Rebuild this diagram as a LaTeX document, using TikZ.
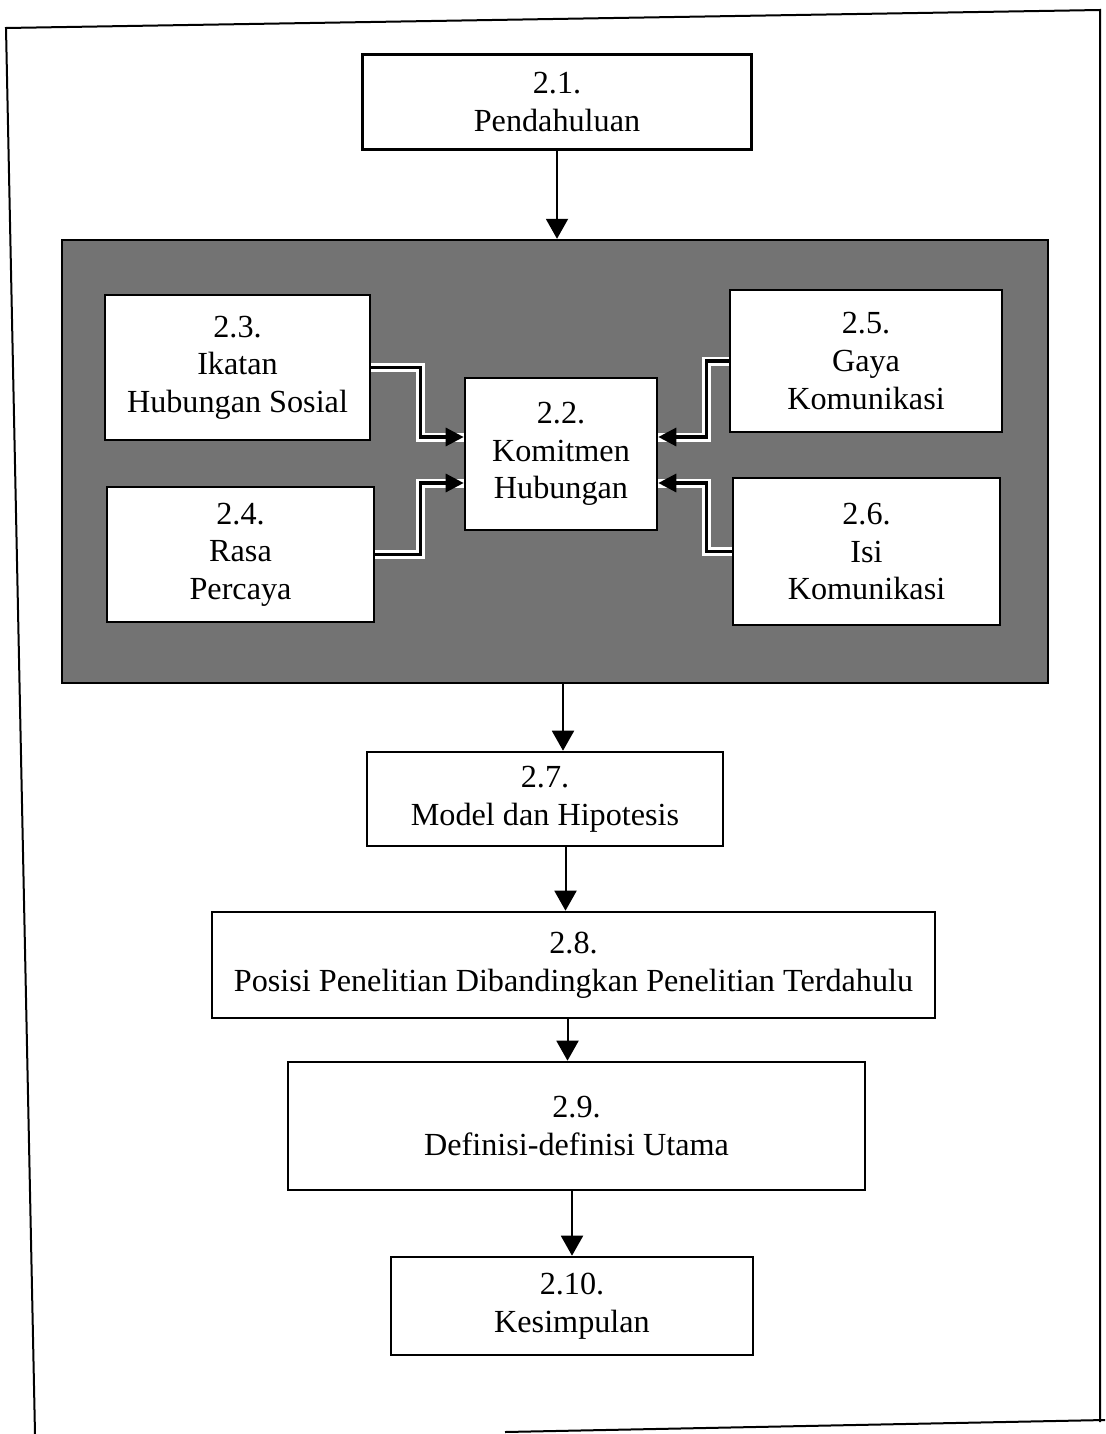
\documentclass[tikz,border=0pt]{standalone}
\usepackage{fontspec}
\setmainfont{Liberation Serif}
\usetikzlibrary{arrows.meta,positioning}
\definecolor{inkc}{HTML}{000000}
\definecolor{dotbg}{HTML}{737373}
\tikzset{
  ar/.style={-{Triangle[length=10pt,width=11pt]},line width=1pt,inkc},
  box/.style={draw=inkc,line width=1.3pt,fill=white,align=center,inner sep=0pt,font=\fontsize{16.1}{18.8}\selectfont},
  core/.style={draw=inkc,line width=1.2pt,fill=dotbg,inner sep=0pt},
  link/.style={-{Triangle[length=9pt,width=9pt]},line width=1.6pt,inkc,preaction={draw=white,line width=4.5pt,-}},
  rim/.style={line width=1pt,inkc}
}
\begin{document}
\begin{tikzpicture}[x=0.5pt,y=-0.5pt]
\useasboundingbox (0,0) rectangle (1105,1434);
\draw[rim] (505,1432) -- (1105,1420);
\draw[rim] (35,1434) -- (6,28) -- (1100,10) -- (1100,1422);
\node[box,minimum width=194.5pt,minimum height=47.5pt] (p21) at (557,102) {2.1.\\Pendahuluan};
\node[core,minimum width=493pt,minimum height=221.5pt] (mid) at (555,461.5) {};
\node[box,minimum width=132.5pt,minimum height=72.5pt] (p23) at (237.5,367.5) {2.3.\\Ikatan\\Hubungan Sosial};
\node[box,minimum width=133.5pt,minimum height=67.5pt] (p24) at (240.5,554.5) {2.4.\\Rasa\\Percaya};
\node[box,minimum width=96pt,minimum height=76pt] (p22) at (561,454) {2.2.\\Komitmen\\Hubungan};
\node[box,minimum width=136pt,minimum height=71pt] (p25) at (866,361) {2.5.\\Gaya\\Komunikasi};
\node[box,minimum width=133.5pt,minimum height=73.5pt] (p26) at (866.5,551.5) {2.6.\\Isi\\Komunikasi};
\node[box,minimum width=178pt,minimum height=47pt] (p27) at (545,799) {2.7.\\Model dan Hipotesis};
\node[box,minimum width=361.5pt,minimum height=53pt] (p28) at (573.5,965) {2.8.\\Posisi Penelitian Dibandingkan Penelitian Terdahulu};
\node[box,minimum width=288.5pt,minimum height=64pt] (p29) at (576.5,1126) {2.9.\\Definisi-definisi Utama};
\node[box,minimum width=181pt,minimum height=49pt] (p210) at (572,1306) {2.10.\\Kesimpulan};
\draw[link] (p23.east) -- ++(49,0) |- ([yshift=8.5pt]p22.west);
\draw[link] (p24.east) -- ++(45,0) |- ([yshift=-14.5pt]p22.west);
\draw[link] (p25.west) -- ++(-22,0) |- ([yshift=8.5pt]p22.east);
\draw[link] (p26.west) -- ++(-25,0) |- ([yshift=-14.5pt]p22.east);
\draw[ar] (p21.south) -- (p21.south |- mid.north);
\draw[ar] ([xshift=4pt]mid.south) -- ([xshift=4pt]mid.south |- p27.north);
\draw[ar] ([xshift=-4pt]p27.south -| p28.north) -- ([xshift=-4pt]p28.north);
\draw[ar] ([xshift=-3pt]p28.south) -- ([xshift=-3pt]p28.south |- p29.north);
\draw[ar] (p29.south -| p210.north) -- (p210.north);
\end{tikzpicture}
\end{document}
